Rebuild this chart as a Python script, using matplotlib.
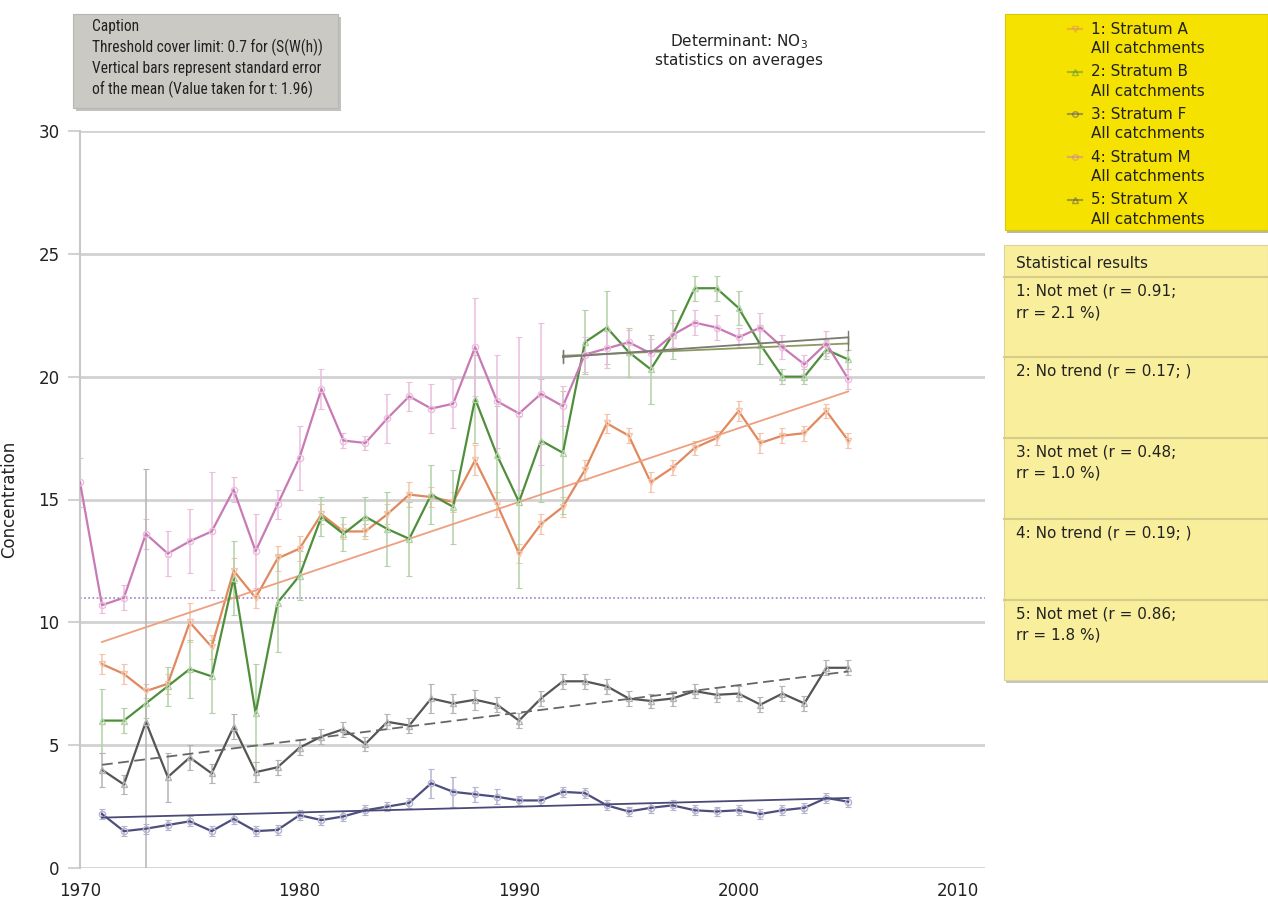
import numpy as np
import matplotlib
matplotlib.use("Agg")
import matplotlib.pyplot as plt
from matplotlib.patches import Rectangle
from matplotlib.lines import Line2D

# ---------------- data ----------------
years = list(range(1971, 2006))
years_m = list(range(1970, 2006))

stratum_a = [8.3, 7.9, 7.2, 7.5, 10.0, 9.0, 12.1, 11.0, 12.6, 13.0, 14.4, 13.7, 13.7, 14.4, 15.2,
             15.1, 14.9, 16.6, 14.8, 12.8, 14.0, 14.7, 16.2, 18.1, 17.6, 15.7, 16.3, 17.1, 17.5,
             18.6, 17.3, 17.6, 17.7, 18.6, 17.4]
stratum_b = [6.0, 6.0, 6.7, 7.4, 8.1, 7.8, 11.8, 6.3, 10.8, 11.9, 14.3, 13.6, 14.3, 13.8, 13.4,
             15.2, 14.7, 19.1, 16.8, 14.9, 17.4, 16.9, 21.4, 22.0, 21.0, 20.3, 21.7, 23.6, 23.6,
             22.8, 21.3, 20.0, 20.0, 21.1, 20.7]
stratum_f = [2.2, 1.5, 1.6, 1.75, 1.9, 1.5, 2.0, 1.5, 1.55, 2.15, 1.95, 2.1, 2.35, 2.5, 2.65,
             3.45, 3.1, 3.0, 2.9, 2.75, 2.75, 3.1, 3.05, 2.55, 2.3, 2.45, 2.55, 2.35, 2.3,
             2.35, 2.2, 2.35, 2.45, 2.85, 2.7]
stratum_m = [15.7, 10.7, 11.0, 13.6, 12.8, 13.3, 13.7, 15.4, 12.9, 14.8, 16.7, 19.5, 17.4, 17.3,
             18.3, 19.2, 18.7, 18.9, 21.2, 19.0, 18.5, 19.3, 18.8, 20.9, 21.15, 21.4, 20.95,
             21.7, 22.2, 22.0, 21.6, 22.0, 21.2, 20.5, 21.35, 19.9]
stratum_x = [4.0, 3.4, 5.95, 3.7, 4.5, 3.85, 5.75, 3.9, 4.1, 4.9, 5.35, 5.65, 5.05, 5.95, 5.8,
             6.9, 6.7, 6.85, 6.65, 6.0, 6.9, 7.6, 7.6, 7.4, 6.9, 6.8, 6.9, 7.2, 7.05, 7.1,
             6.65, 7.1, 6.7, 8.15, 8.15]

err_a = [0.4, 0.4, 0.3, 0.4, 0.8, 0.5, 0.5, 0.4, 0.5, 0.5, 0.4, 0.3, 0.3, 0.4, 0.5, 0.4, 0.4,
         0.6, 0.5, 0.4, 0.4, 0.4, 0.4, 0.4, 0.3, 0.4, 0.3, 0.3, 0.3, 0.4, 0.4, 0.3, 0.3, 0.3, 0.3]
err_b = [1.3, 0.5, 0.6, 0.8, 1.2, 1.5, 1.5, 2.0, 2.0, 1.0, 0.8, 0.7, 0.8, 1.5, 1.5, 1.2, 1.5,
         1.8, 2.0, 3.5, 2.5, 2.5, 1.3, 1.5, 1.0, 1.4, 1.0, 0.5, 0.5, 0.7, 0.8, 0.3, 0.3, 0.4, 0.4]
err_f = [0.2, 0.2, 0.2, 0.2, 0.2, 0.2, 0.2, 0.2, 0.2, 0.2, 0.2, 0.2, 0.2, 0.2, 0.2, 0.6, 0.6,
         0.3, 0.3, 0.2, 0.2, 0.2, 0.2, 0.2, 0.2, 0.2, 0.2, 0.2, 0.2, 0.2, 0.2, 0.2, 0.2, 0.2, 0.2]
err_m = [1.0, 0.3, 0.5, 0.6, 0.9, 1.3, 2.4, 0.5, 1.5, 0.6, 1.3, 0.8, 0.3, 0.3, 1.0, 0.6, 1.0,
         1.0, 2.0, 1.9, 3.1, 2.9, 0.8, 0.7, 0.8, 0.5, 0.6, 0.5, 0.5, 0.5, 0.4, 0.6, 0.5, 0.4,
         0.5, 0.4]
err_x = [0.7, 0.4, 10.3, 1.0, 0.5, 0.4, 0.5, 0.4, 0.3, 0.3, 0.3, 0.3, 0.3, 0.3, 0.3, 0.6, 0.4,
         0.4, 0.3, 0.3, 0.3, 0.3, 0.3, 0.3, 0.3, 0.3, 0.3, 0.3, 0.3, 0.3, 0.3, 0.3, 0.3, 0.3, 0.3]

# trend lines: (start year, end year, start value, end value)
trend_a = [1971, 2005, 9.2, 19.4]
trend_b = [1992, 2005, 20.85, 21.35]
trend_f = [1971, 2005, 2.05, 2.85]
trend_m = [1992, 2005, 20.8, 21.6]
trend_x = [1971, 2005, 4.2, 8.0]
threshold = 11.0

legend_labels = ["1: Stratum A", "2: Stratum B", "3: Stratum F", "4: Stratum M", "5: Stratum X"]
stats_lines = [["1: Not met (r = 0.91;", "rr = 2.1 %)"],
               ["2: No trend (r = 0.17; )"],
               ["3: Not met (r = 0.48;", "rr = 1.0 %)"],
               ["4: No trend (r = 0.19; )"],
               ["5: Not met (r = 0.86;", "rr = 1.8 %)"]]
caption_lines = ["Caption", "Threshold cover limit: 0.7 for (S(W(h))",
                 "Vertical bars represent standard error",
                 "of the mean (Value taken for t: 1.96)"]
x_ticks = [1970, 1980, 1990, 2000, 2010]
y_ticks = [0, 5, 10, 15, 20, 25, 30]

# ---------------- figure ----------------
W, H = 1268, 911
fig = plt.figure(figsize=(W / 100, H / 100), dpi=100)


def fx(x):
    return x / W


def fy(y):
    return 1 - y / H


ax = fig.add_axes([fx(80), fy(868), (985 - 80) / W, (868 - 131) / H])
ax.set_xlim(1970, 1970 + (985 - 80) / 21.95)
ax.set_ylim(0, 30)
for s in ["top", "right", "bottom"]:
    ax.spines[s].set_visible(False)
ax.spines["left"].set_color("#c8c8c8")
ax.spines["left"].set_linewidth(1.5)
ax.set_yticks(y_ticks)
ax.set_xticks(x_ticks)
ax.yaxis.grid(True, color="#d2d2d2", linewidth=2)
ax.set_axisbelow(True)
ax.tick_params(axis="y", length=8.6, width=1.5, color="#d2d2d2", labelsize=12, pad=6,
               labelcolor="#222222")
ax.tick_params(axis="x", length=0, labelsize=12, pad=10, labelcolor="#222222")
ax.set_ylabel("Concentration", fontsize=12, color="#222222")
ax.yaxis.set_label_coords((18 - 80) / 905, 0.5)

ax.axhline(threshold, color="#a080c0", linestyle=(0, (1, 1.5)), linewidth=1.2, zorder=1)

series = [
    (years, stratum_a, err_a, "#e0895e", "#f4c4aa", "v", trend_a, "-", "#ee9f7e"),
    (years, stratum_b, err_b, "#4f8f3c", "#b4d2a8", "^", trend_b, "-", "#8a9a60"),
    (years, stratum_f, err_f, "#4e4e7e", "#b4b4d0", "o", trend_f, "-", "#4a4a78"),
    (years_m, stratum_m, err_m, "#c87ab4", "#ecbede", "o", trend_m, "-", "#7a7a70"),
    (years, stratum_x, err_x, "#555555", "#b4b4b4", "^", trend_x, (0, (6, 3)), "#666666"),
]

for xs, ys, es, col, ecol, mk, tr, tls, tcol in series:
    ax.errorbar(xs, ys, yerr=es, fmt="none", ecolor=ecol, elinewidth=1.1, capsize=2,
                capthick=0.8, zorder=2, clip_on=True)
    ax.plot(xs, ys, color=col, linewidth=1.6, marker=mk, markersize=4.5,
            markerfacecolor="none", markeredgecolor=ecol, markeredgewidth=1, zorder=3)
    ax.plot([tr[0], tr[1]], [tr[2], tr[3]], color=tcol, linestyle=tls, linewidth=1.3, zorder=3)

# end ticks on the short trend lines
for tr in (trend_b, trend_m):
    for xx, yy in ((tr[0], tr[2]), (tr[1], tr[3])):
        ax.plot([xx, xx], [yy - 0.25, yy + 0.25], color="#7a7a70", linewidth=1, zorder=3)

# ---------------- caption box ----------------
fig.add_artist(Rectangle((fx(76), fy(111)), (338 - 73) / W, (108 - 14) / H,
                         transform=fig.transFigure, facecolor="#9a9a9a", edgecolor="none",
                         alpha=0.6, zorder=0))
fig.add_artist(Rectangle((fx(73), fy(108)), (338 - 73) / W, (108 - 14) / H,
                         transform=fig.transFigure, facecolor="#cbc9c3", edgecolor="#b8b6b0",
                         linewidth=0.8, zorder=1))
for i, line in enumerate(caption_lines):
    fig.text(fx(92), fy(27 + 20.7 * i), line, fontsize=11.2, va="center", ha="left",
             color="#222222", family=["Roboto Condensed", "Liberation Sans"], zorder=2)

# ---------------- title ----------------
fig.text(fx(739), fy(42), "Determinant: NO$_3$", fontsize=11, ha="center", va="center",
         color="#222222")
fig.text(fx(739), fy(61), "statistics on averages", fontsize=11, ha="center", va="center",
         color="#222222")

# ---------------- legend box ----------------
fig.add_artist(Rectangle((fx(1007), fy(233)), (1268 - 1005) / W, (230 - 14) / H,
                         transform=fig.transFigure, facecolor="#8a8a6a", edgecolor="none",
                         alpha=0.6, zorder=0))
fig.add_artist(Rectangle((fx(1005), fy(230)), (1268 - 1005) / W, (230 - 14) / H,
                         transform=fig.transFigure, facecolor="#f6e200", edgecolor="#d8c800",
                         linewidth=0.8, zorder=1))
leg_markers = ["v", "^", "o", "o", "^"]
for i, lab in enumerate(legend_labels):
    y0 = 29 + 42.7 * i
    col = series[i][3]
    fig.add_artist(Line2D([fx(1068), fx(1082)], [fy(y0), fy(y0)], transform=fig.transFigure,
                          color=col, linewidth=1.5, alpha=0.5, zorder=2))
    fig.add_artist(Line2D([fx(1075)], [fy(y0)], transform=fig.transFigure, marker=leg_markers[i],
                          markersize=4, markerfacecolor="none", markeredgecolor=col, alpha=0.5,
                          zorder=2))
    fig.text(fx(1091), fy(y0), lab, fontsize=11, va="center", ha="left", color="#222222", zorder=3)
    fig.text(fx(1091), fy(y0 + 19.5), "All catchments", fontsize=11, va="center", ha="left",
             color="#222222", zorder=3)

# ---------------- statistics panel ----------------
fig.add_artist(Rectangle((fx(1006), fy(683)), (1268 - 1004) / W, (680 - 245) / H,
                         transform=fig.transFigure, facecolor="#a0a090", edgecolor="none",
                         alpha=0.6, zorder=0))
fig.add_artist(Rectangle((fx(1004), fy(680)), (1268 - 1004) / W, (680 - 245) / H,
                         transform=fig.transFigure, facecolor="#f8ee9c", edgecolor="#ddd39a",
                         linewidth=0.8, zorder=1))
fig.text(fx(1016), fy(263), "Statistical results", fontsize=11, va="center", ha="left",
         color="#222222", zorder=3)
sep_y = [277, 357, 438, 519, 600]
for i, ys in enumerate(sep_y):
    fig.add_artist(Line2D([fx(1004), fx(1268)], [fy(ys), fy(ys)], transform=fig.transFigure,
                          color="#d6cc88", linewidth=1.5, zorder=2))
    for j, line in enumerate(stats_lines[i]):
        fig.text(fx(1016), fy(ys + 14 + 21.5 * j), line, fontsize=11, va="center", ha="left",
                 color="#222222", zorder=3)

fig.savefig("out.png", dpi=100)
